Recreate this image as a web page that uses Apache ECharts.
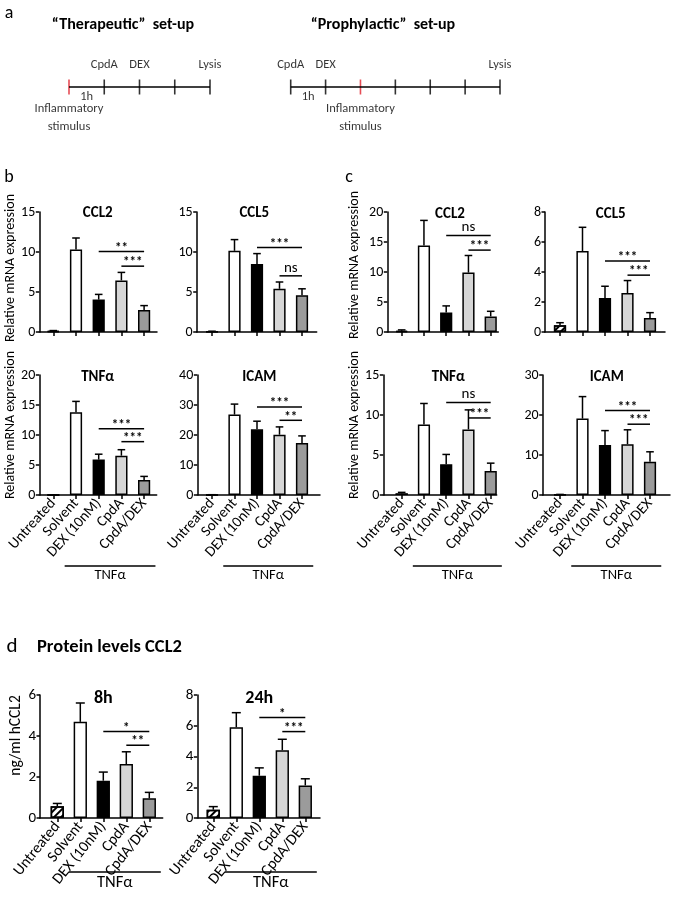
<!DOCTYPE html>
<html><head><meta charset="utf-8">
<script src="https://cdn.jsdelivr.net/npm/echarts@6/dist/echarts.min.js"></script>
<style>html,body{margin:0;padding:0;background:#fff}#c{width:675px;height:909px}</style>
</head><body><div id="c"></div>
<script>
// ---------------- data ----------------
const categories = ['Untreated', 'Solvent', 'DEX (10nM)', 'CpdA', 'CpdA/DEX'];
const groupLabel = 'TNFα';

// panel b (therapeutic) – relative mRNA expression, mean and SD
const bCCL2Mean = [0.1, 10.3, 4.05, 6.45, 2.75];
const bCCL2Sd   = [0.08, 1.45, 0.65, 1.0, 0.55];
const bCCL2Sig  = [[2, 4, 10.07, '**'], [3, 4, 8.23, '***']];
const bCCL5Mean = [0.05, 10.15, 8.5, 5.4, 4.6];
const bCCL5Sd   = [0.05, 1.4, 1.3, 0.85, 0.8];
const bCCL5Sig  = [[2, 4, 10.57, '***'], [3, 4, 7.02, 'ns']];
const bTNFMean  = [0.02, 13.8, 5.9, 6.55, 2.5];
const bTNFSd    = [0.02, 1.8, 0.9, 1.0, 0.6];
const bTNFSig   = [[2, 4, 11.06, '***'], [3, 4, 8.89, '***']];
const bICAMMean = [0.05, 26.8, 21.9, 20.1, 17.3];
const bICAMSd   = [0.05, 3.5, 2.7, 2.6, 2.4];
const bICAMSig  = [[2, 4, 29.3, '***'], [3, 4, 24.9, '**']];

// panel c (prophylactic)
const cCCL2Mean = [0.2, 14.4, 3.25, 9.9, 2.6];
const cCCL2Sd   = [0.15, 4.2, 1.1, 2.85, 0.85];
const cCCL2Sig  = [[2, 4, 16.1, 'ns'], [3, 4, 13.65, '***']];
const cCCL5Mean = [0.45, 5.4, 2.27, 2.6, 0.94];
const cCCL5Sd   = [0.17, 1.58, 0.78, 0.83, 0.35];
const cCCL5Sig  = [[2, 4, 4.74, '***'], [3, 4, 3.79, '***']];
const cTNFMean  = [0.2, 8.8, 3.85, 8.2, 3.0];
const cTNFSd    = [0.13, 2.64, 1.22, 2.44, 0.98];
const cTNFSig   = [[2, 4, 11.56, 'ns'], [3, 4, 9.63, '***']];
const cICAMMean = [0.1, 19.1, 12.5, 12.7, 8.3];
const cICAMSd   = [0.05, 5.5, 3.6, 3.6, 2.5];
const cICAMSig  = [[2, 4, 21.1, '***'], [3, 4, 17.7, '***']];

// panel d – protein levels CCL2 (ng/ml)
const d8Mean  = [0.57, 4.69, 1.82, 2.63, 0.96];
const d8Sd    = [0.14, 0.92, 0.42, 0.6, 0.29];
const d8Sig   = [[2, 4, 4.22, '*'], [3, 4, 3.55, '**']];
const d24Mean = [0.54, 5.9, 2.75, 4.41, 2.12];
const d24Sd   = [0.2, 0.95, 0.51, 0.71, 0.43];
const d24Sig  = [[2, 4, 6.53, '*'], [3, 4, 5.62, '***']];

// panel a – timelines (hours)
const therTicks = [0, 1, 2, 3, 4];
const therStimulus = 0;
const therTopLabels = [[1, 'CpdA'], [2, 'DEX'], [4, 'Lysis']];
const prophTicks = [0, 1, 2, 3, 4, 5, 6];
const prophStimulus = 2;
const prophTopLabels = [[0, 'CpdA'], [1, 'DEX'], [6, 'Lysis']];
const intervalLabel = '1h';
const stimulusLabel = 'Inflammatory\nstimulus';

// ---------------- style / layout ----------------
const FONT = 'Carlito';
const barColors = ['#ffffff', '#ffffff', '#000000', '#d6d6d6', '#9b9b9b'];
const hatch = { symbol: 'rect', symbolSize: 1, color: '#000', dashArrayX: [1, 0], dashArrayY: [1.2, 2.4], rotation: -Math.PI / 4 };

const panels = [
  { mean: bCCL2Mean, sd: bCCL2Sd, sig: bCCL2Sig, L: 39.3, R: 157, top: 212, h: 120, c0: 53.3, s: 22.7, ymax: 15, yint: 5, title: 'CCL2', tx: 97.7, ty: 213, yname: 'Relative mRNA expression', gap: 22, pad: 8 },
  { mean: bCCL5Mean, sd: bCCL5Sd, sig: bCCL5Sig, L: 196.7, R: 316.7, top: 212, h: 120, c0: 212, s: 22.5, ymax: 15, yint: 5, title: 'CCL5', tx: 254.3, ty: 213 },
  { mean: cCCL2Mean, sd: cCCL2Sd, sig: cCCL2Sig, L: 387.3, R: 498.3, top: 212, h: 120, c0: 401.7, s: 22.25, ymax: 20, yint: 5, title: 'CCL2', tx: 450, ty: 214, yname: 'Relative mRNA expression', gap: 26, pad: 14 },
  { mean: cCCL5Mean, sd: cCCL5Sd, sig: cCCL5Sig, L: 545, R: 665, top: 212, h: 120, c0: 560, s: 22.5, ymax: 8, yint: 2, title: 'CCL5', tx: 610.7, ty: 214 },
  { mean: bTNFMean, sd: bTNFSd, sig: bTNFSig, L: 39.3, R: 156.7, top: 375, h: 120, c0: 53.3, s: 22.7, ymax: 20, yint: 5, title: 'TNFα', tx: 97.7, ty: 377.7, yname: 'Relative mRNA expression', gap: 22, pad: 20, labels: true, by: 71 },
  { mean: bICAMMean, sd: bICAMSd, sig: bICAMSig, L: 197.3, R: 320, top: 375, h: 120, c0: 212, s: 22.5, ymax: 40, yint: 10, title: 'ICAM', tx: 259.3, ty: 377.7, labels: true, by: 71 },
  { mean: cTNFMean, sd: cTNFSd, sig: cTNFSig, L: 383.3, R: 496.7, top: 375, h: 120, c0: 401.7, s: 22.25, ymax: 15, yint: 5, title: 'TNFα', tx: 448.3, ty: 377, yname: 'Relative mRNA expression', gap: 22, pad: 20, labels: true, by: 71 },
  { mean: cICAMMean, sd: cICAMSd, sig: cICAMSig, L: 542.7, R: 670, top: 375, h: 120, c0: 560, s: 22.5, ymax: 30, yint: 10, title: 'ICAM', tx: 606.7, ty: 377, labels: true, by: 71 },
  { mean: d8Mean, sd: d8Sd, sig: d8Sig, L: 40, R: 162.7, top: 695, h: 123, c0: 57.3, s: 23, ymax: 6, yint: 2, title: '8h', tx: 103.3, ty: 698, yname: 'ng/ml hCCL2', gap: 14, pad: 42, labels: true, by: 54, big: true },
  { mean: d24Mean, sd: d24Sd, sig: d24Sig, L: 197.3, R: 320, top: 695, h: 123, c0: 213.3, s: 23, ymax: 8, yint: 2, title: '24h', tx: 259.3, ty: 698, labels: true, by: 54, big: true }
];

const grids = [], xAxes = [], yAxes = [], series = [], graphics = [];
const ticks5 = [0, 1, 2, 3, 4];
const axLine = { color: '#000', width: 1.5 };

panels.forEach((p, i) => {
  const xmin = (p.L - p.c0) / p.s;
  const xmax = 4 + (p.R - (p.c0 + 4 * p.s)) / p.s;
  grids.push({ left: p.L, top: p.top, width: p.R - p.L, height: p.h });
  xAxes.push({
    gridIndex: i, type: 'value', min: xmin, max: xmax,
    axisLine: { show: true, onZero: false, lineStyle: axLine },
    axisTick: { show: true, customValues: ticks5, length: 4, lineStyle: axLine },
    axisLabel: { show: !!p.labels, customValues: ticks5, formatter: v => categories[v] || '', rotate: p.big ? 51 : 48, margin: 6,
      fontSize: p.big ? 15.5 : 15, color: '#000', fontFamily: FONT },
    splitLine: { show: false }
  });
  yAxes.push({
    gridIndex: i, type: 'value', min: 0, max: p.ymax, interval: p.yint,
    axisLine: { show: true, onZero: false, lineStyle: axLine },
    axisTick: { show: true, length: 3.5, lineStyle: axLine },
    axisLabel: { margin: 4, fontSize: p.big ? 15 : 14, color: '#000', fontFamily: FONT },
    splitLine: { show: false },
    name: p.yname || '', nameLocation: 'middle', nameGap: p.gap || 20,
    nameTextStyle: { fontSize: p.big ? 15.5 : 14, color: '#000', fontFamily: FONT, padding: [0, 0, 0, p.pad || 0] }
  });
  const bw = p.big ? 13.3 : 12.2;
  series.push({
    type: 'bar', xAxisIndex: i, yAxisIndex: i, barWidth: bw, silent: true, animation: false,
    data: p.mean.map((m, k) => ({ value: [k, m], itemStyle: Object.assign({ color: barColors[k], borderColor: '#000', borderWidth: 1.5 }, k === 0 ? { decal: hatch } : {}) }))
  });
  const cap = p.big ? 4.5 : 3.8;
  series.push({
    type: 'custom', xAxisIndex: i, yAxisIndex: i, silent: true, animation: false, clip: false, z: 3,
    data: p.mean.map((m, k) => [k, m, m + p.sd[k]]),
    encode: { x: 0, y: [1, 2] },
    renderItem: (params, api) => {
      const a = api.coord([api.value(0), api.value(1)]);
      const b = api.coord([api.value(0), api.value(2)]);
      return { type: 'group', children: [
        { type: 'line', shape: { x1: a[0], y1: a[1], x2: b[0], y2: b[1] }, style: { stroke: '#000', lineWidth: 1.5 } },
        { type: 'line', shape: { x1: b[0] - cap, y1: b[1], x2: b[0] + cap, y2: b[1] }, style: { stroke: '#000', lineWidth: 1.5 } }
      ] };
    }
  });
  series.push({
    type: 'custom', xAxisIndex: i, yAxisIndex: i, silent: true, animation: false, clip: false, z: 4,
    data: p.sig.map(r => [r[0], r[1], r[2]]),
    encode: { x: [0, 1], y: 2 },
    renderItem: (params, api) => {
      const r = p.sig[params.dataIndex];
      const a = api.coord([r[0], r[2]]);
      const b = api.coord([r[1], r[2]]);
      const isNs = r[3] === 'ns';
      return { type: 'group', children: [
        { type: 'line', shape: { x1: a[0], y1: a[1], x2: b[0], y2: b[1] }, style: { stroke: '#000', lineWidth: 1.5 } },
        { type: 'text', x: (a[0] + b[0]) / 2, y: a[1] - (isNs ? 8 : 3),
          style: { text: r[3], fill: '#000', font: (isNs ? '' : 'bold ') + (isNs ? 15 : 13) + 'px ' + FONT, align: 'center', verticalAlign: 'middle', textAlign: 'center', textVerticalAlign: 'middle' } }
      ] };
    }
  });
  if (p.by) {
    series.push({
      type: 'custom', xAxisIndex: i, yAxisIndex: i, silent: true, animation: false, clip: false,
      data: [[1, 4, 0]], encode: { x: [0, 1], y: 2 },
      renderItem: (params, api) => {
        const a = api.coord([api.value(0) - 0.5, 0]);
        const b = api.coord([api.value(1) + 0.5, 0]);
        const y = a[1] + p.by;
        return { type: 'group', children: [
          { type: 'line', shape: { x1: a[0], y1: y, x2: b[0], y2: y }, style: { stroke: '#000', lineWidth: 1.5 } },
          { type: 'text', x: (a[0] + b[0]) / 2, y: y + 2, style: { text: groupLabel, fill: '#000', font: (p.big ? 16.5 : 14.5) + 'px ' + FONT, align: 'center', verticalAlign: 'top', textAlign: 'center', textVerticalAlign: 'top' } }
        ] };
      }
    });
  }
  graphics.push({ type: 'text', x: p.tx, y: p.ty, style: { text: p.title, fill: '#000', font: 'bold ' + (p.big ? 18 : 15) + 'px ' + FONT, align: 'center', verticalAlign: 'middle', textAlign: 'center', textVerticalAlign: 'middle' } });
});

// ---- timelines (panel a) ----
function addTimeline(gi, left, width, ticks, stim, topLabels) {
  const n = ticks[ticks.length - 1];
  grids.push({ left: left, width: width, top: 80, height: 14 });
  xAxes.push({ gridIndex: gi, type: 'value', min: 0, max: n, show: false });
  yAxes.push({ gridIndex: gi, type: 'value', min: -1, max: 1, show: false });
  const txt = { color: '#000', fontFamily: FONT, fontSize: 12.5 };
  series.push({ type: 'line', xAxisIndex: gi, yAxisIndex: gi, symbol: 'none', silent: true, animation: false,
    lineStyle: { color: '#000', width: 1.5 }, data: [[0, 0], [n, 0]] });
  series.push({ type: 'scatter', xAxisIndex: gi, yAxisIndex: gi, symbol: 'rect', symbolSize: [1.6, 15], silent: true, animation: false,
    data: ticks.map(t => ({ value: [t, 0], itemStyle: { color: t === stim ? '#e0202a' : '#000' } })) });
  series.push({ type: 'scatter', xAxisIndex: gi, yAxisIndex: gi, symbolSize: 0, silent: true, animation: false,
    data: topLabels.map(l => ({ value: [l[0], 0], name: l[1] })),
    label: Object.assign({ show: true, position: 'top', distance: 16, formatter: '{b}' }, txt) });
  series.push({ type: 'scatter', xAxisIndex: gi, yAxisIndex: gi, symbolSize: 0, silent: true, animation: false,
    data: [{ value: [0.5, 0], name: intervalLabel }],
    label: Object.assign({ show: true, position: 'bottom', distance: 3, formatter: '{b}' }, txt) });
  series.push({ type: 'scatter', xAxisIndex: gi, yAxisIndex: gi, symbolSize: 0, silent: true, animation: false,
    data: [{ value: [stim, 0], name: stimulusLabel }],
    label: Object.assign({ show: true, position: 'bottom', distance: 13, lineHeight: 18, formatter: '{b}' }, txt) });
}
addTimeline(grids.length, 69, 141, therTicks, therStimulus, therTopLabels);
addTimeline(grids.length, 290.7, 209.3, prophTicks, prophStimulus, prophTopLabels);

// ---- static text ----
const T = (text, x, y, font, align) => ({ type: 'text', x: x, y: y, style: { text: text, fill: '#000', font: font, align: align || 'center', textAlign: align || 'center', verticalAlign: 'middle', textVerticalAlign: 'middle' } });
graphics.push(T('a', 9, 13, '18px ' + FONT));
graphics.push(T('“Therapeutic”  set-up', 123, 25, 'bold 16px ' + FONT));
graphics.push(T('“Prophylactic”  set-up', 383, 25, 'bold 16px ' + FONT));
graphics.push(T('b', 9, 177, '18px ' + FONT));
graphics.push(T('c', 349, 177, '18px ' + FONT));
graphics.push(T('d', 12, 647, '21px ' + FONT));
graphics.push(T('Protein levels CCL2', 37, 647, 'bold 18.5px ' + FONT, 'left'));

const chart = echarts.init(document.getElementById('c'), null, { renderer: 'canvas' });
chart.setOption({
  backgroundColor: '#fff',
  animation: false,
  textStyle: { fontFamily: FONT, color: '#000' },
  grid: grids, xAxis: xAxes, yAxis: yAxes, series: series, graphic: graphics
});
</script></body></html>
